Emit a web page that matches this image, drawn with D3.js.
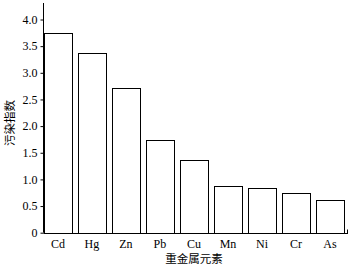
<!DOCTYPE html>
<html><head><meta charset="utf-8">
<script src="https://cdn.jsdelivr.net/npm/d3@7"></script>
<style>body{margin:0;background:#fff}svg{display:block}</style>
</head><body>
<script>
const categories = ["Cd","Hg","Zn","Pb","Cu","Mn","Ni","Cr","As"];
const values = [3.74, 3.38, 2.71, 1.73, 1.36, 0.88, 0.84, 0.74, 0.61];
const yTicks = [0, 0.5, 1.0, 1.5, 2.0, 2.5, 3.0, 3.5, 4.0];
const yTickLabels = ["0","0.5","1.0","1.5","2.0","2.5","3.0","3.5","4.0"];
const xTitle = "重金属元素";
const yTitle = "污染指数";

const W = 359, H = 270;
const svg = d3.select("body").append("svg").attr("width", W).attr("height", H);
const x0 = 44, x1 = 348, yBase = 232.7, yTop = 19.5;
const x = d3.scaleBand().domain(categories).range([x0, x1]).paddingInner(0.18).paddingOuter(0.06).align(0);
const y = d3.scaleLinear().domain([0, 4]).range([yBase, yTop]);
const serif = "'Liberation Serif','Times New Roman',serif";
const cjk = "'Noto Sans CJK SC',sans-serif";

// bars
svg.append("g").selectAll("rect").data(categories).join("rect")
  .attr("x", d => Math.round(x(d)) + 0.5)
  .attr("y", (d,i) => Math.round(y(values[i])) + 0.5)
  .attr("width", Math.round(x.bandwidth()))
  .attr("height", (d,i) => Math.round(yBase) - Math.round(y(values[i])))
  .attr("fill", "#fff").attr("stroke", "#000").attr("stroke-width", 1);

// y axis
const ya = svg.append("g").attr("transform", `translate(${x0 - 0.5},0)`)
  .call(d3.axisLeft(y).tickValues(yTicks).tickFormat((d,i) => yTickLabels[i]).tickSize(3).tickPadding(3));
ya.select(".domain").remove();
ya.append("line").attr("x1", 0).attr("x2", 0).attr("y1", 3).attr("y2", yBase).attr("stroke", "#000");
ya.selectAll("text").attr("font-family", serif).attr("font-size", 12).attr("fill", "#000");

// x axis
const xa = svg.append("g").attr("transform", `translate(0,${Math.round(yBase) + 0.5})`)
  .call(d3.axisBottom(x).tickSize(0).tickPadding(6));
xa.select(".domain").remove();
xa.append("line").attr("x1", x0 - 0.5).attr("x2", x1).attr("y1", 0).attr("y2", 0).attr("stroke", "#000");
xa.append("line").attr("x1", x1 - 0.5).attr("x2", x1 - 0.5).attr("y1", 0).attr("y2", -4).attr("stroke", "#000");
xa.selectAll("text").attr("font-family", serif).attr("font-size", 12).attr("fill", "#000");

svg.append("text").attr("x", 194).attr("y", 263).attr("text-anchor", "middle")
  .attr("font-family", cjk).attr("font-size", 11.5).text(xTitle);
svg.append("text").attr("transform", "translate(14,123) rotate(-90)").attr("text-anchor", "middle")
  .attr("font-family", cjk).attr("font-size", 11.5).text(yTitle);
</script>
</body></html>
